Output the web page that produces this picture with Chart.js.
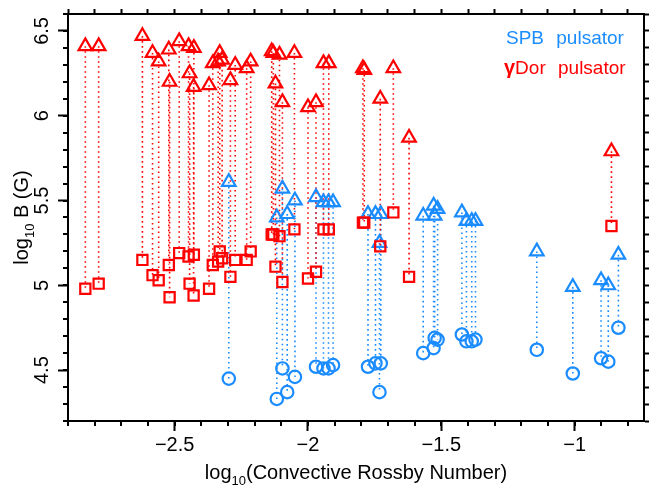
<!DOCTYPE html>
<html>
<head>
<meta charset="utf-8">
<script src="https://cdn.jsdelivr.net/npm/chart.js@4.4.1/dist/chart.umd.min.js"></script>
<style>
  html, body { margin: 0; padding: 0; background: #fff; }
  #wrap { width: 654px; height: 490px; }
</style>
</head>
<body>
<div id="wrap"><canvas id="chart" width="654" height="490"></canvas></div>
<script>
// gamma Dor pulsators: triangle = upper value, square = lower value
var redX = [-2.835, -2.785, -2.621, -2.583, -2.560, -2.522, -2.519, -2.483, -2.448, -2.444,
            -2.428, -2.429, -2.371, -2.357, -2.337, -2.331, -2.322, -2.291, -2.273, -2.230,
            -2.215, -2.136, -2.130, -2.107, -2.122, -2.096, -2.051, -2.000, -1.970, -1.942,
            -1.922, -1.794, -1.789, -1.729, -1.680, -1.621, -0.862];
var redTop = [6.41, 6.41, 6.47, 6.37, 6.32, 6.39, 6.20, 6.44, 6.41, 6.25,
              6.40, 6.17, 6.18, 6.31, 6.32, 6.37, 6.33, 6.21, 6.30, 6.28,
              6.32, 6.38, 6.37, 6.36, 6.19, 6.08, 6.37, 6.05, 6.08, 6.31,
              6.31, 6.28, 6.27, 6.10, 6.28, 5.87, 5.79];
var redBottom = [4.98, 5.01, 5.15, 5.06, 5.03, 5.12, 4.93, 5.19, 5.17, 5.01,
                 5.18, 4.94, 4.98, 5.12, 5.14, 5.20, 5.16, 5.05, 5.15, 5.15,
                 5.20, 5.30, 5.30, 5.29, 5.11, 5.02, 5.33, 5.04, 5.08, 5.33,
                 5.33, 5.37, 5.37, 5.23, 5.43, 5.05, 5.35];

// SPB pulsators: triangle = upper value, circle = lower value
var blueX = [-2.297, -2.096, -2.117, -2.078, -2.049, -1.970, -1.942, -1.923, -1.906, -1.775,
             -1.747, -1.727, -1.732, -1.568, -1.529, -1.525, -1.514, -1.423, -1.406, -1.386,
             -1.372, -1.142, -1.007, -0.901, -0.874, -0.836];
var blueTop = [5.61, 5.57, 5.40, 5.42, 5.50, 5.52, 5.49, 5.49, 5.49, 5.42,
               5.42, 5.42, 5.25, 5.41, 5.47, 5.41, 5.45, 5.43, 5.38, 5.38,
               5.38, 5.20, 4.99, 5.03, 5.00, 5.18];
var blueBottom = [4.45, 4.51, 4.33, 4.37, 4.46, 4.52, 4.51, 4.51, 4.53, 4.52,
                  4.54, 4.54, 4.37, 4.60, 4.63, 4.69, 4.68, 4.71, 4.67, 4.67,
                  4.68, 4.62, 4.48, 4.57, 4.55, 4.75];

var xTicks = [-2.5, -2, -1.5, -1];
var xTickLabels = ['\u22122.5', '\u22122', '\u22121.5', '\u22121'];
var yTicks = [4.5, 5, 5.5, 6, 6.5];
var yTickLabels = ['4.5', '5', '5.5', '6', '6.5'];

var RED = '#ff0000';
var BLUE = '#1a8cff';
var FONT = "'Liberation Sans', Arial, sans-serif";

// minor tick positions every 0.1
var xMinor = [], yMinor = [];
for (var k = -29; k <= -8; k++) xMinor.push(k / 10);
for (var k = 42; k <= 66; k++) yMinor.push(k / 10);

function points(xs, ys) {
    return xs.map(function (x, i) { return {x: x, y: ys[i]}; });
}

// vertical dotted connectors: pairs of points broken by a null
function stems(xs, a, b) {
    var out = [];
    xs.forEach(function (x, i) {
        out.push({x: x, y: a[i]}, {x: x, y: b[i]}, {x: x, y: null});
    });
    return out;
}

function markers(data, color, style, r) {
    return {
        data: data, pointStyle: style, pointRadius: r, pointHoverRadius: r,
        borderColor: color, backgroundColor: 'rgba(0,0,0,0)',
        pointBorderWidth: 2.2, borderWidth: 2.2, showLine: false
    };
}

function lines(data, color) {
    return {
        data: data, showLine: true, spanGaps: false, pointRadius: 0,
        borderColor: color, borderWidth: 1.6, borderDash: [1.6, 3.4]
    };
}

// titles with subscripts, legend text and minor ticks
var extras = {
    id: 'extras',
    afterDraw: function (chart) {
        var ctx = chart.ctx, a = chart.chartArea;
        var sx = chart.scales.x, sy = chart.scales.y;
        ctx.save();
        ctx.strokeStyle = '#000';
        ctx.lineWidth = 2;
        ctx.beginPath();
        xMinor.forEach(function (v) {
            var p = Math.round(sx.getPixelForValue(v));
            ctx.moveTo(p, a.bottom); ctx.lineTo(p, a.bottom + 5);
        });
        yMinor.forEach(function (v) {
            var p = Math.round(sy.getPixelForValue(v));
            ctx.moveTo(a.left, p); ctx.lineTo(a.left - 5, p);
        });
        ctx.stroke();

        function sub(parts, cx, cy) {
            var w = 0;
            parts.forEach(function (p) { ctx.font = p[1]; w += ctx.measureText(p[0]).width; });
            var x = cx - w / 2;
            ctx.textAlign = 'left';
            ctx.textBaseline = 'alphabetic';
            parts.forEach(function (p) {
                ctx.font = p[1];
                ctx.fillText(p[0], x, cy + p[2]);
                x += ctx.measureText(p[0]).width;
            });
        }
        ctx.fillStyle = '#000';
        var big = '20px ' + FONT, small = '13px ' + FONT;
        sub([['log', big, 0], ['10', small, 6], ['(Convective Rossby Number)', big, 0]],
            (a.left + a.right) / 2, 479);
        ctx.save();
        ctx.translate(28, (a.top + a.bottom) / 2);
        ctx.rotate(-Math.PI / 2);
        sub([['log', big, 0], ['10', small, 6], [' B (G)', big, 0]], 0, 0);
        ctx.restore();

        ctx.textAlign = 'left';
        ctx.textBaseline = 'alphabetic';
        ctx.font = '19px ' + FONT;
        ctx.fillStyle = BLUE;
        ctx.wordSpacing = '7px';
        ctx.fillText('SPB pulsator', 506, 44);
        ctx.fillStyle = RED;
        ctx.font = 'bold 20px ' + FONT;
        ctx.fillText('\u03b3', 504, 74);
        var gw = ctx.measureText('\u03b3').width;
        ctx.font = '19px ' + FONT;
        ctx.fillText('Dor pulsator', 504 + gw, 74);
        ctx.restore();
    }
};

var axisBorder = {display: true, color: '#000', width: 2};

new Chart(document.getElementById('chart'), {
    type: 'scatter',
    data: {
        datasets: [
            markers(points(redX, redTop), RED, 'triangle', 7.8),
            markers(points(redX, redBottom), RED, 'rect', 7.2),
            markers(points(blueX, blueTop), BLUE, 'triangle', 7.8),
            markers(points(blueX, blueBottom), BLUE, 'circle', 6.2),
            lines(stems(redX, redTop, redBottom), RED),
            lines(stems(blueX, blueTop, blueBottom), BLUE)
        ]
    },
    options: {
        responsive: false,
        animation: false,
        devicePixelRatio: 1,
        layout: {padding: 0},
        plugins: {legend: {display: false}, tooltip: {enabled: false}},
        scales: {
            x: {
                type: 'linear', position: 'bottom', min: -2.9, max: -0.74,
                afterBuildTicks: function (s) { s.ticks = xTicks.map(function (v) { return {value: v}; }); },
                afterFit: function (s) { s.height = 69; },
                grid: {drawOnChartArea: false, tickLength: 10, tickWidth: 2, tickColor: '#000'},
                border: axisBorder,
                ticks: {
                    color: '#000', font: {family: FONT, size: 20}, padding: 2,
                    maxRotation: 0, autoSkip: false,
                    callback: function (v) { return xTickLabels[xTicks.indexOf(v)]; }
                }
            },
            x2: {
                type: 'linear', position: 'top', min: -2.9, max: -0.74,
                afterBuildTicks: function (s) { s.ticks = xMinor.map(function (v) { return {value: v}; }); },
                afterFit: function (s) { s.height = 13; },
                grid: {drawOnChartArea: false, tickLength: 5, tickWidth: 2, tickColor: '#000'},
                border: axisBorder,
                ticks: {display: false}
            },
            y: {
                type: 'linear', position: 'left', min: 4.2, max: 6.6,
                afterBuildTicks: function (s) { s.ticks = yTicks.map(function (v) { return {value: v}; }); },
                afterFit: function (s) { s.width = 68; },
                grid: {drawOnChartArea: false, tickLength: 10, tickWidth: 2, tickColor: '#000'},
                border: axisBorder,
                ticks: {
                    color: '#000', font: {family: FONT, size: 20}, padding: 2,
                    minRotation: 90, maxRotation: 90, crossAlign: 'center', autoSkip: false,
                    callback: function (v) { return yTickLabels[yTicks.indexOf(v)]; }
                }
            },
            y2: {
                type: 'linear', position: 'right', min: 4.2, max: 6.6,
                afterBuildTicks: function (s) { s.ticks = yMinor.map(function (v) { return {value: v}; }); },
                afterFit: function (s) { s.width = 6; },
                grid: {drawOnChartArea: false, tickLength: 5, tickWidth: 2, tickColor: '#000'},
                border: axisBorder,
                ticks: {display: false}
            }
        }
    },
    plugins: [extras]
});
</script>
</body>
</html>
